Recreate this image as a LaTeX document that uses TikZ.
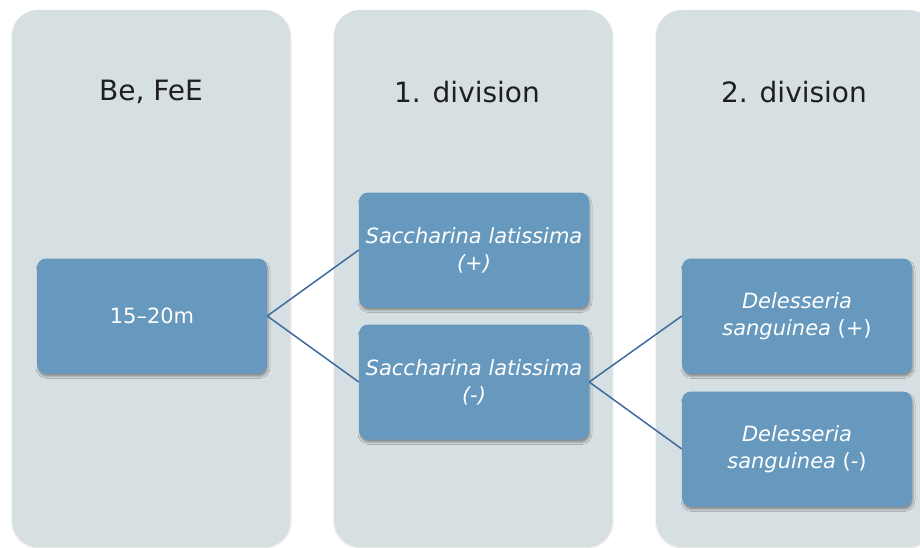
\documentclass[tikz,border=0pt]{standalone}
\usepackage{fontspec}
\setmainfont{DejaVu Sans}
\usetikzlibrary{positioning,shadows.blur}
\definecolor{colgray}{HTML}{D6DFE2}
\definecolor{boxblue}{HTML}{6699BD}
\definecolor{linkblue}{HTML}{3F6A9C}

\begin{document}
\begin{tikzpicture}[
  x=1pt, y=-1pt,
  column/.style={fill=colgray, rounded corners=26pt, minimum width=278pt, minimum height=536pt,
    blur shadow={shadow xshift=0.5pt, shadow yshift=-1.5pt, shadow opacity=18, shadow blur radius=2pt}},
  head/.style={font=\fontsize{28}{32}\selectfont, text=black!88},
  box/.style={fill=boxblue, rounded corners=9pt, minimum width=230pt, minimum height=115pt,
    align=center, text=white, font=\fontsize{21}{27}\selectfont,
    blur shadow={shadow xshift=1pt, shadow yshift=-3pt, shadow opacity=35, shadow blur radius=2pt}},
  link/.style={draw=linkblue, line width=1.5pt}
]
  \useasboundingbox (0,0) rectangle (920,548);
  % columns
  \node[column] (depthcol) at (151,278) {};
  \node[column] (firstcol) at (473,278) {};
  \node[column] (secondcol) at (795,278) {};
  \node[head] (depthhead) at (151,92) {Be, FeE};
  \node[head] (firsthead) at (467,92) {1. division};
  \node[head] (secondhead) at (794,92) {2. division};
  % boxes
  \node[box] (depth) at (152,316) {15–20m};
  \node[box] (saccplus) at (474,250) {\textit{Saccharina latissima}\\\textit{(+)}};
  \node[box] (saccminus) at (474,382) {\textit{Saccharina latissima}\\\textit{(-)}};
  \node[box] (delplus) at (797,316) {\textit{Delesseria}\\\textit{sanguinea} (+)};
  \node[box] (delminus) at (797,449) {\textit{Delesseria}\\\textit{sanguinea} (-)};
  % links
  \draw[link] (depth.east) -- (saccplus.west);
  \draw[link] (depth.east) -- (saccminus.west);
  \draw[link] (saccminus.east) -- (delplus.west);
  \draw[link] (saccminus.east) -- (delminus.west);
\end{tikzpicture}
\end{document}
